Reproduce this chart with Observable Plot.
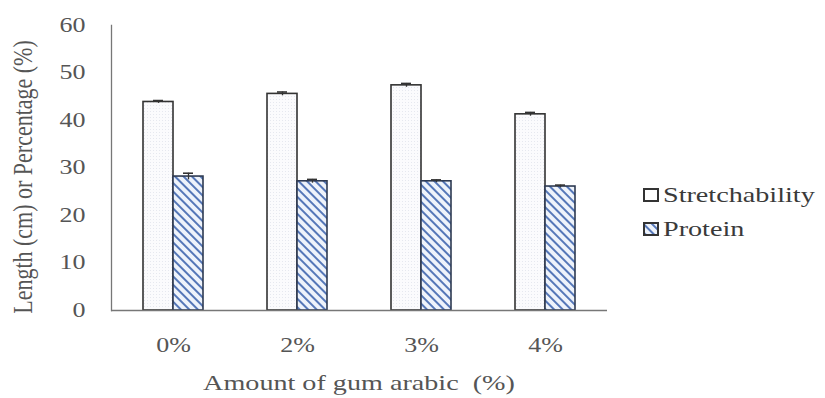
<!DOCTYPE html>
<html>
<head>
<meta charset="utf-8">
<script src="https://cdn.jsdelivr.net/npm/d3@7"></script>
<script src="https://cdn.jsdelivr.net/npm/@observablehq/plot@0.6"></script>
<style>
  html, body { margin: 0; padding: 0; background: #fff; }
  #wrap { position: relative; width: 825px; height: 398px; }
  #legend { position: absolute; left: 643px; top: 178px; font-size: 22px; color: #3a3a3a; }
  #legend .row { display: flex; align-items: center; height: 34px; white-space: nowrap; }
  #legend svg { margin-right: 4px; flex: none; }
  #legend span { display: inline-block; transform: scaleX(1.28); transform-origin: left center; }
</style>
</head>
<body>
<div id="wrap"></div>
<script>
const categories = ["0%", "2%", "3%", "4%"];
const seriesNames = ["Stretchability", "Protein"];
const stretch = [43.9, 45.6, 47.4, 41.3];
const stretchErr = [0.3, 0.4, 0.4, 0.4];
const protein = [28.2, 27.2, 27.2, 26.1];
const proteinErr = [0.7, 0.4, 0.3, 0.3];
const yTicks = [0, 10, 20, 30, 40, 50, 60];
const xTitle = "Amount of gum arabic  (%)";
const yTitle = "Length (cm) or Percentage (%)";

const sData = categories.map((c, i) => ({cat: c, value: stretch[i], err: stretchErr[i]}));
const pData = categories.map((c, i) => ({cat: c, value: protein[i], err: proteinErr[i]}));

const textColor = "#555";
const font = "Liberation Serif";
const barStroke = "#333";

const plot = Plot.plot({
  width: 825,
  height: 398,
  marginLeft: 111,
  marginRight: 218,
  marginTop: 25,
  marginBottom: 88,
  style: {fontFamily: "'Liberation Serif', serif", fontSize: "20px", color: textColor, background: "#fff"},
  x: {domain: categories, paddingInner: 0.516, paddingOuter: 0.258, axis: null},
  y: {domain: [0, 60], ticks: yTicks, label: null, axis: null},
  marks: [
    Plot.barY(sData, {x: "cat", y: "value", insetRight: 30, fill: "url(#dots)", stroke: barStroke, strokeWidth: 1.6}),
    Plot.barY(pData, {x: "cat", y: "value", insetLeft: 30, fill: "url(#hatch)", stroke: "#2e3a52", strokeWidth: 1.6}),
    Plot.ruleX(sData, {x: "cat", dx: -15, y1: d => d.value - d.err, y2: d => d.value + d.err, stroke: barStroke, strokeWidth: 1.3}),
    Plot.ruleX(pData, {x: "cat", dx: 15, y1: d => d.value - d.err, y2: d => d.value + d.err, stroke: barStroke, strokeWidth: 1.3}),
    Plot.tickY(sData, {x: "cat", y: d => d.value + d.err, insetLeft: 10, insetRight: 40, stroke: barStroke, strokeWidth: 1.6}),
    Plot.tickY(pData, {x: "cat", y: d => d.value + d.err, insetLeft: 40, insetRight: 10, stroke: barStroke, strokeWidth: 1.6}),
    Plot.axisX({anchor: "bottom", tickSize: 0, tickPadding: 27, fontSize: 20, fill: textColor, label: null}),
    Plot.axisY({ticks: yTicks, anchor: "left", tickSize: 0, tickPadding: 26, fontSize: 20, fill: textColor, label: null}),
    Plot.ruleY([0], {stroke: "#777", strokeWidth: 1.3}),
    Plot.frame({anchor: "left", stroke: "#777", strokeWidth: 1.3})
  ]
});

const svgEl = plot.tagName.toLowerCase() === "svg" ? plot : plot.querySelector("svg");
const svg = d3.select(svgEl);

// Stretch horizontal text to match the reference's wide glyphs, and force the serif face
svg.selectAll("text").each(function() {
  const t = this.getAttribute("transform") || "";
  const x = parseFloat(this.getAttribute("x")) || 0;
  this.setAttribute("transform", `${t} translate(${x},0) scale(1.3,1) translate(${-x},0)`);
  this.style.fontFamily = font;
});

const defs = svg.insert("defs", ":first-child");
const hatch = defs.append("pattern").attr("id", "hatch").attr("patternUnits", "userSpaceOnUse")
  .attr("width", 6).attr("height", 6).attr("patternTransform", "rotate(45)");
hatch.append("rect").attr("width", 6).attr("height", 6).attr("fill", "#eef3fb");
hatch.append("rect").attr("width", 6).attr("height", 2).attr("fill", "#5577b8");
const dots = defs.append("pattern").attr("id", "dots").attr("patternUnits", "userSpaceOnUse")
  .attr("width", 3).attr("height", 3);
dots.append("rect").attr("width", 3).attr("height", 3).attr("fill", "#fbfbfd");
dots.append("rect").attr("width", 1).attr("height", 1).attr("fill", "#e6e8ef");

const xs = plot.scale("x");
const xMid = (xs.range[0] + xs.range[1]) / 2;

// x-axis title
svg.append("text")
  .attr("transform", `translate(${xMid},390) scale(1.28,1)`)
  .attr("text-anchor", "middle")
  .style("font-family", font)
  .attr("font-size", 22)
  .attr("fill", textColor)
  .text(xTitle);

// y-axis title
svg.append("text")
  .attr("transform", "translate(32,177) rotate(-90) scale(1,1.28)")
  .attr("text-anchor", "middle")
  .style("font-family", font)
  .attr("font-size", 22)
  .attr("fill", textColor)
  .text(yTitle);

document.getElementById("wrap").appendChild(plot);

const legend = document.createElement("div");
legend.id = "legend";
legend.style.fontFamily = font;
legend.innerHTML = seriesNames.map((s, i) => `<div class="row"><svg width="16" height="14"><rect x="1" y="1" width="14" height="12" fill="${i === 1 ? "url(#hatch)" : "#fff"}" stroke="#333" stroke-width="2"/></svg><span style="font-family:'Liberation Serif'">${s}</span></div>`).join("");
document.getElementById("wrap").appendChild(legend);
</script>
</body>
</html>
